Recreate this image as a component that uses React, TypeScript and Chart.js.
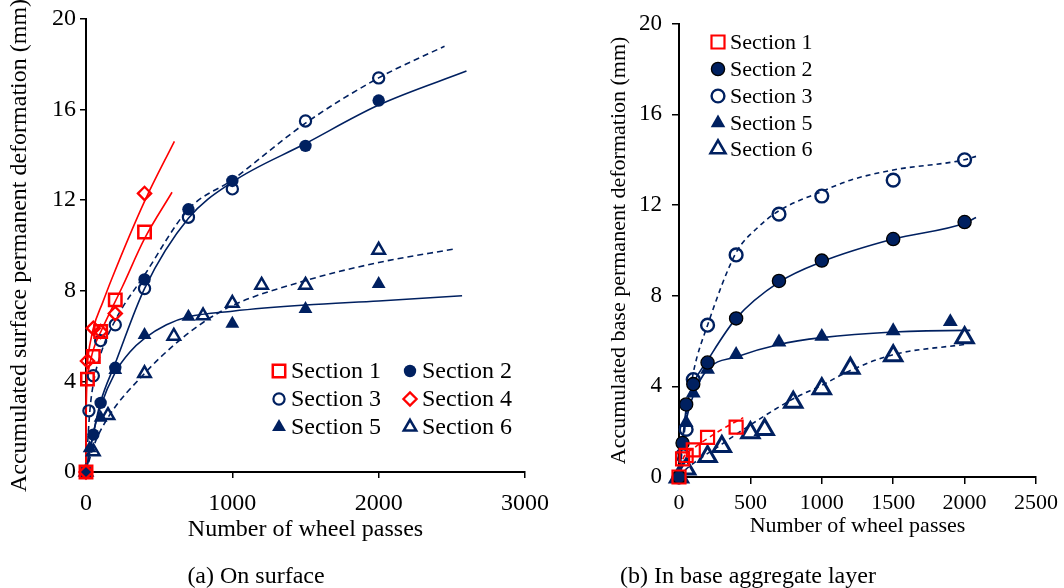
import React, { useEffect, useRef } from 'react';
import { Chart, registerables } from 'chart.js';

Chart.register(...registerables);

const NAVY = '#002060';
const RED = '#FF0000';
const FONT = "'Liberation Serif', 'Times New Roman', serif";

// ---------- (a) On surface ----------
const surfaceTicksX = [0, 1000, 2000, 3000];
const surfaceTicksY = [0, 4, 8, 12, 16, 20];

const surfS1X = [0, 10, 50, 100, 200, 400];
const surfS1Y = [0, 4.1, 5.1, 6.2, 7.6, 10.6];
const surfS2X = [0, 50, 100, 200, 400, 700, 1000, 1500, 2000];
const surfS2Y = [0, 1.65, 3.05, 4.6, 8.5, 11.6, 12.85, 14.4, 16.4];
const surfS3X = [0, 20, 50, 100, 200, 400, 700, 1000, 1500, 2000];
const surfS3Y = [0, 2.7, 4.25, 5.8, 6.5, 8.1, 11.25, 12.5, 15.5, 17.4];
const surfS4X = [0, 10, 50, 100, 200, 400];
const surfS4Y = [0, 4.9, 6.35, 6.2, 7.0, 12.3];
const surfS5X = [0, 25, 100, 200, 400, 700, 1000, 1500, 2000];
const surfS5Y = [0, 1.05, 2.4, 4.5, 6.05, 6.85, 6.55, 7.2, 8.3];
const surfS6X = [0, 50, 150, 400, 600, 800, 1000, 1200, 1500, 2000];
const surfS6Y = [0, 0.9, 2.5, 4.35, 6.0, 6.9, 7.45, 8.25, 8.25, 9.8];

// trend curves
const surfFit1X = [0, 2, 10, 50, 107, 250, 400, 588];
const surfFit1Y = [0, 3.0, 4.2, 5.4, 6.27, 8.2, 10.3, 12.35];
const surfFit4X = [0, 2, 10, 47, 115, 173, 400, 604];
const surfFit4Y = [0, 3.5, 4.9, 6.27, 7.5, 8.48, 11.95, 14.6];
const surfFit2X = [0, 50, 100, 200, 400, 700, 1000, 1500, 2000, 2600];
const surfFit2Y = [0, 1.7, 3.1, 4.8, 8.1, 11.2, 12.8, 14.5, 16.2, 17.7];
const surfFit3X = [0, 25, 50, 100, 200, 400, 700, 1000, 1500, 2000, 2450];
const surfFit3Y = [0, 2.6, 3.9, 5.2, 6.7, 8.7, 11.6, 12.9, 15.4, 17.4, 18.8];
const surfFit5X = [0, 50, 100, 200, 300, 400, 550, 700, 1000, 1500, 2000, 2570];
const surfFit5Y = [0, 1.7, 2.9, 4.4, 5.3, 5.9, 6.5, 6.85, 7.1, 7.37, 7.55, 7.78];
const surfFit6X = [0, 50, 150, 400, 600, 800, 1000, 1500, 2000, 2520];
const surfFit6Y = [0, 1.1, 2.4, 4.35, 5.6, 6.6, 7.35, 8.45, 9.25, 9.85];

// ---------- (b) In base aggregate layer ----------
const baseTicksX = [0, 500, 1000, 1500, 2000, 2500];
const baseTicksY = [0, 4, 8, 12, 16, 20];

const baseS1X = [0, 25, 50, 100, 200, 400];
const baseS1Y = [0, 0.8, 0.95, 1.2, 1.75, 2.2];
const baseS2X = [0, 25, 50, 100, 200, 400, 700, 1000, 1500, 2000];
const baseS2Y = [0, 1.5, 3.2, 4.1, 5.05, 7.0, 8.65, 9.55, 10.5, 11.25];
const baseS3X = [0, 25, 50, 100, 200, 400, 700, 1000, 1500, 2000];
const baseS3Y = [0, 0.95, 2.1, 4.3, 6.7, 9.8, 11.6, 12.4, 13.1, 14.0];
const baseS5X = [0, 50, 100, 200, 400, 700, 1000, 1500, 1900];
const baseS5Y = [0, 2.4, 3.7, 4.75, 5.4, 5.95, 6.2, 6.45, 6.85];
const baseS6X = [0, 50, 200, 300, 500, 600, 800, 1000, 1200, 1500, 2000];
const baseS6Y = [0, 0.35, 0.9, 1.35, 1.95, 2.1, 3.3, 3.9, 4.8, 5.35, 6.15];

const baseFit1X = [0, 25, 100, 200, 300, 450];
const baseFit1Y = [0, 0.75, 1.25, 1.7, 2.1, 2.62];
const baseFit2X = [0, 25, 50, 100, 200, 400, 700, 1000, 1500, 2000, 2080];
const baseFit2Y = [0, 1.6, 3.0, 4.1, 5.15, 7.0, 8.6, 9.5, 10.5, 11.2, 11.45];
const baseFit3X = [0, 25, 50, 100, 200, 400, 550, 700, 1000, 1200, 1500, 2000, 2080];
const baseFit3Y = [0, 1.3, 2.6, 4.6, 6.7, 9.9, 11.0, 11.75, 12.6, 13.1, 13.55, 14.0, 14.15];
const baseFit5X = [0, 25, 50, 100, 200, 400, 700, 1000, 1500, 2000, 2040];
const baseFit5Y = [0, 1.7, 2.5, 3.6, 4.75, 5.3, 5.85, 6.15, 6.4, 6.47, 6.47];
const baseFit6X = [0, 50, 100, 300, 500, 800, 1000, 1200, 1500, 2000];
const baseFit6Y = [0, 0.35, 0.6, 1.45, 2.3, 3.45, 4.05, 4.7, 5.4, 5.85];

type Mk = { shape: 'rect' | 'circle' | 'triangle' | 'rectRot'; r: number; fill: string; stroke: string; lw: number };
const CLEAR = 'rgba(0,0,0,0)';

const surfMk: Record<string, Mk> = {
  s1: { shape: 'rect', r: 8.8, fill: CLEAR, stroke: RED, lw: 2.5 },
  s2: { shape: 'circle', r: 6.2, fill: NAVY, stroke: NAVY, lw: 0 },
  s3: { shape: 'circle', r: 5.6, fill: CLEAR, stroke: NAVY, lw: 2.2 },
  s4: { shape: 'rectRot', r: 6.6, fill: CLEAR, stroke: RED, lw: 2.3 },
  s5: { shape: 'triangle', r: 8, fill: NAVY, stroke: NAVY, lw: 0 },
  s6: { shape: 'triangle', r: 7.2, fill: CLEAR, stroke: NAVY, lw: 2.5 },
};
const baseMk: Record<string, Mk> = {
  s1: { shape: 'rect', r: 9.2, fill: CLEAR, stroke: RED, lw: 2.2 },
  s2: { shape: 'circle', r: 6.6, fill: NAVY, stroke: '#000', lw: 1.3 },
  s3: { shape: 'circle', r: 6.4, fill: CLEAR, stroke: NAVY, lw: 2.4 },
  s5: { shape: 'triangle', r: 8.6, fill: NAVY, stroke: NAVY, lw: 0 },
  s6: { shape: 'triangle', r: 10, fill: CLEAR, stroke: NAVY, lw: 3 },
};

const zip = (xs: number[], ys: number[]) => xs.map((x, i) => ({ x, y: ys[i] }));

function markerSet(label: string, xs: number[], ys: number[], m: Mk) {
  return {
    label,
    data: zip(xs, ys),
    showLine: false,
    pointStyle: m.shape,
    pointRadius: m.r,
    pointHoverRadius: m.r,
    pointBackgroundColor: m.fill,
    pointBorderColor: m.stroke,
    pointBorderWidth: m.lw,
    clip: false,
    order: 0,
  };
}

function fitSet(xs: number[], ys: number[], color: string, dash: number[]) {
  return {
    label: '',
    data: zip(xs, ys),
    showLine: true,
    pointRadius: 0,
    pointHoverRadius: 0,
    borderColor: color,
    borderWidth: 1.6,
    borderDash: dash,
    cubicInterpolationMode: 'monotone',
    fill: false,
    clip: false,
    order: 1,
  };
}

function drawMarker(ctx: CanvasRenderingContext2D, m: Mk, x: number, y: number) {
  const r = m.r;
  ctx.save();
  ctx.beginPath();
  if (m.shape === 'circle') ctx.arc(x, y, r, 0, Math.PI * 2);
  else if (m.shape === 'rect') {
    const s = r * Math.SQRT1_2;
    ctx.rect(x - s, y - s, 2 * s, 2 * s);
  } else if (m.shape === 'rectRot') {
    ctx.moveTo(x - r, y);
    ctx.lineTo(x, y - r);
    ctx.lineTo(x + r, y);
    ctx.lineTo(x, y + r);
    ctx.closePath();
  } else {
    let a = 0;
    ctx.moveTo(x + Math.sin(a) * r, y - Math.cos(a) * r);
    a += (2 * Math.PI) / 3;
    ctx.lineTo(x + Math.sin(a) * r, y - Math.cos(a) * r);
    a += (2 * Math.PI) / 3;
    ctx.lineTo(x + Math.sin(a) * r, y - Math.cos(a) * r);
    ctx.closePath();
  }
  ctx.fillStyle = m.fill;
  ctx.fill();
  if (m.lw > 0) {
    ctx.lineWidth = m.lw;
    ctx.strokeStyle = m.stroke;
    ctx.stroke();
  }
  ctx.restore();
}

type LegendEntry = { label: string; m: Mk; x: number; y: number };

function legendPlugin(entries: LegendEntry[], fontSize: number, gap: number) {
  return {
    id: 'paperLegend',
    afterDraw(chart: any) {
      const ctx: CanvasRenderingContext2D = chart.ctx;
      entries.forEach((e) => {
        drawMarker(ctx, e.m, e.x, e.y);
        ctx.save();
        ctx.font = `${fontSize}px ${FONT}`;
        ctx.fillStyle = '#000';
        ctx.textAlign = 'left';
        ctx.textBaseline = 'middle';
        ctx.fillText(e.label, e.x + gap, e.y + 1);
        ctx.restore();
      });
    },
  };
}

function makeAxis(o: {
  min: number; max: number; ticks: number[]; fontSize: number; pad: number; tl: number;
  title: string; titleFont: number; titlePad: any; fit: (s: any) => void;
}) {
  return {
    type: 'linear',
    min: o.min,
    max: o.max,
    afterBuildTicks: (s: any) => {
      s.ticks = o.ticks.map((v) => ({ value: v }));
    },
    ticks: {
      font: { family: FONT, size: o.fontSize },
      color: '#000',
      padding: o.pad,
      maxRotation: 0,
      autoSkip: false,
      callback: (v: any) => String(v),
    },
    grid: { display: true, drawOnChartArea: false, drawTicks: true, tickLength: o.tl, color: '#000', lineWidth: 1.5 },
    border: { display: true, color: '#000', width: 2 },
    title: { display: true, text: o.title, color: '#000', font: { family: FONT, size: o.titleFont }, padding: o.titlePad },
    afterFit: o.fit,
  };
}

function surfaceConfig(): any {
  return {
    type: 'scatter',
    data: {
      datasets: [
        markerSet('Section 1', surfS1X, surfS1Y, surfMk.s1),
        markerSet('Section 4', surfS4X, surfS4Y, surfMk.s4),
        markerSet('Section 2', surfS2X, surfS2Y, surfMk.s2),
        markerSet('Section 3', surfS3X, surfS3Y, surfMk.s3),
        markerSet('Section 5', surfS5X, surfS5Y, surfMk.s5),
        markerSet('Section 6', surfS6X, surfS6Y, surfMk.s6),
        fitSet(surfFit1X, surfFit1Y, RED, []),
        fitSet(surfFit4X, surfFit4Y, RED, []),
        fitSet(surfFit2X, surfFit2Y, NAVY, []),
        fitSet(surfFit3X, surfFit3Y, NAVY, [6, 4]),
        fitSet(surfFit5X, surfFit5Y, NAVY, []),
        fitSet(surfFit6X, surfFit6Y, NAVY, [6, 4]),
      ],
    },
    options: {
      responsive: false,
      animation: false,
      events: [],
      layout: { padding: { left: 0, right: 24, top: 19, bottom: 0 } },
      plugins: { legend: { display: false }, tooltip: { enabled: false } },
      scales: {
        x: makeAxis({
          min: 0, max: 3000, ticks: surfaceTicksX, fontSize: 24, pad: 11, tl: 6,
          title: 'Number of wheel passes', titleFont: 24, titlePad: { top: 0, bottom: 44 },
          fit: (s: any) => { s.height = 116; },
        }),
        y: makeAxis({
          min: 0, max: 20, ticks: surfaceTicksY, fontSize: 24, pad: 4, tl: 6,
          title: 'Accumulated surface permanent deformation (mm)', titleFont: 24, titlePad: { top: 5, bottom: 0 },
          fit: (s: any) => { s.width = 86; },
        }),
      },
    },
    plugins: [
      legendPlugin(
        [
          { label: 'Section 1', m: surfMk.s1, x: 279, y: 371 },
          { label: 'Section 3', m: surfMk.s3, x: 279, y: 399 },
          { label: 'Section 5', m: surfMk.s5, x: 279, y: 427 },
          { label: 'Section 2', m: surfMk.s2, x: 410, y: 371 },
          { label: 'Section 4', m: surfMk.s4, x: 410, y: 399 },
          { label: 'Section 6', m: surfMk.s6, x: 410, y: 427 },
        ],
        24,
        12,
      ),
    ],
  };
}

function baseConfig(): any {
  return {
    type: 'scatter',
    data: {
      datasets: [
        markerSet('Section 1', baseS1X, baseS1Y, baseMk.s1),
        markerSet('Section 2', baseS2X, baseS2Y, baseMk.s2),
        markerSet('Section 3', baseS3X, baseS3Y, baseMk.s3),
        markerSet('Section 5', baseS5X, baseS5Y, baseMk.s5),
        markerSet('Section 6', baseS6X, baseS6Y, baseMk.s6),
        fitSet(baseFit1X, baseFit1Y, RED, [5, 4]),
        fitSet(baseFit2X, baseFit2Y, NAVY, []),
        fitSet(baseFit3X, baseFit3Y, NAVY, [5, 4]),
        fitSet(baseFit5X, baseFit5Y, NAVY, []),
        fitSet(baseFit6X, baseFit6Y, NAVY, [5, 4]),
      ],
    },
    options: {
      responsive: false,
      animation: false,
      events: [],
      layout: { padding: { left: 0, right: 28, top: 14, bottom: 0 } },
      plugins: { legend: { display: false }, tooltip: { enabled: false } },
      scales: {
        x: makeAxis({
          min: 0, max: 2500, ticks: baseTicksX, fontSize: 22, pad: 6, tl: 7,
          title: 'Number of wheel passes', titleFont: 22, titlePad: { top: 0, bottom: 49 },
          fit: (s: any) => { s.height = 111; },
        }),
        y: makeAxis({
          min: 0, max: 20, ticks: baseTicksY, fontSize: 23, pad: 10, tl: 7,
          title: 'Accumulated base permanent deformation (mm)', titleFont: 22, titlePad: { top: 46, bottom: 0 },
          fit: (s: any) => { s.width = 119; },
        }),
      },
    },
    plugins: [
      legendPlugin(
        [
          { label: 'Section 1', m: baseMk.s1, x: 158, y: 42 },
          { label: 'Section 2', m: baseMk.s2, x: 158, y: 69 },
          { label: 'Section 3', m: baseMk.s3, x: 158, y: 96 },
          { label: 'Section 5', m: { ...baseMk.s5, r: 8.4 }, x: 158, y: 123 },
          { label: 'Section 6', m: { ...baseMk.s6, r: 8.6, lw: 2.6 }, x: 158, y: 149 },
        ],
        22,
        12,
      ),
    ],
  };
}

function ChartCanvas({ make, left, width }: { make: () => any; left: number; width: number }) {
  const ref = useRef<HTMLCanvasElement>(null);
  useEffect(() => {
    if (!ref.current) return;
    const chart = new Chart(ref.current, make());
    return () => chart.destroy();
  }, []);
  return (
    <canvas
      ref={ref}
      width={width}
      height={588}
      style={{ position: 'absolute', left, top: 0, width, height: 588, display: 'block' }}
    />
  );
}

export default function App() {
  const cap: React.CSSProperties = {
    position: 'absolute',
    top: 561,
    width: 400,
    textAlign: 'center',
    fontFamily: FONT,
    fontSize: 24,
    lineHeight: '28px',
    color: '#000',
    whiteSpace: 'nowrap',
  };
  return (
    <div style={{ position: 'fixed', left: 0, top: 0, width: 1064, height: 588, background: '#fff', overflow: 'hidden' }}>
      <ChartCanvas make={surfaceConfig} left={0} width={560} />
      <ChartCanvas make={baseConfig} left={560} width={504} />
      <div style={{ ...cap, left: 256 - 200 }}>(a) On surface</div>
      <div style={{ ...cap, left: 748 - 200 }}>(b) In base aggregate layer</div>
    </div>
  );
}
